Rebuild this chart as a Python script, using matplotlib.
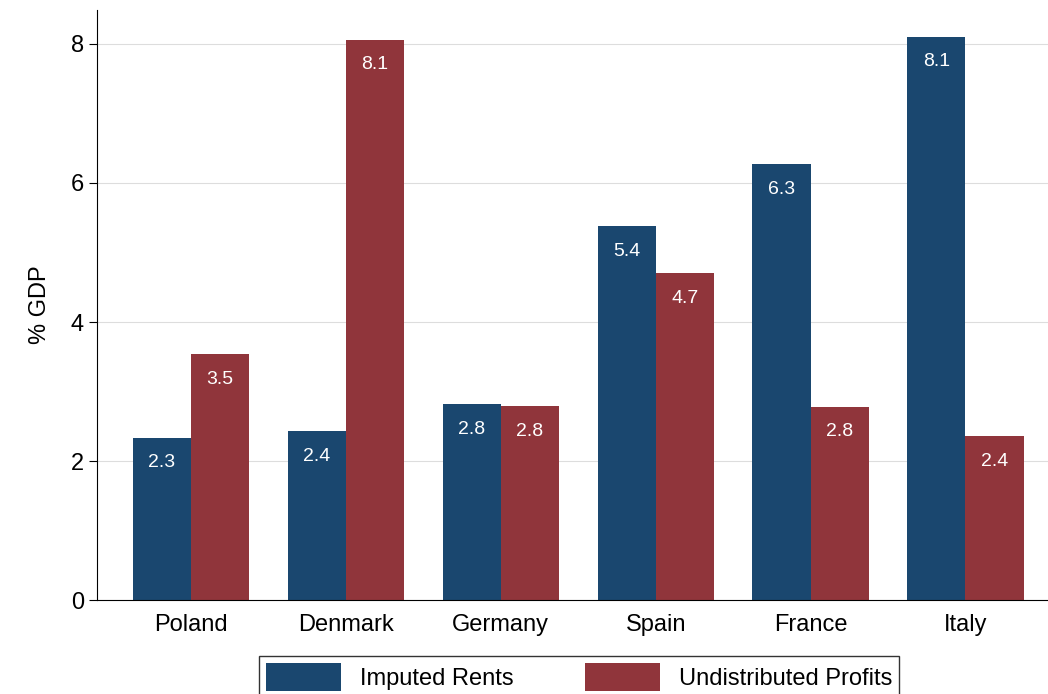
import matplotlib.pyplot as plt
import numpy as np

countries = ['Poland', 'Denmark', 'Germany', 'Spain', 'France', 'Italy']
imputed_rents = [2.34, 2.43, 2.82, 5.38, 6.27, 8.10]
undistributed = [3.54, 8.06, 2.79, 4.70, 2.78, 2.36]

blue = '#1a476f'
red = '#90353b'

plt.rcParams['font.family'] = ['Liberation Sans', 'DejaVu Sans']

fig = plt.figure(figsize=(10.48, 6.94), dpi=100)
ax = fig.add_axes([0.0926, 0.135, 0.907, 0.851])

x = np.arange(len(countries))
w = 0.375
b1 = ax.bar(x - w / 2, imputed_rents, w, color=blue, label='Imputed Rents')
b2 = ax.bar(x + w / 2, undistributed, w, color=red, label='Undistributed Profits')

for bars, vals in ((b1, imputed_rents), (b2, undistributed)):
    for bar, v in zip(bars, vals):
        ax.text(bar.get_x() + bar.get_width() / 2, v - 0.36, f'{v:.1f}',
                ha='center', va='center', color='white', fontsize=14)

ax.set_xlim(-0.606, 5.53)
ax.set_ylim(0, 8.49)
ax.set_yticks([0, 2, 4, 6, 8])
ax.set_xticks(x)
ax.set_xticklabels(countries)
ax.tick_params(axis='both', labelsize=17)
ax.tick_params(axis='y', length=6)
ax.tick_params(axis='x', length=0, pad=10)
ax.set_ylabel('% GDP', fontsize=17, labelpad=14)
ax.grid(axis='y', color='#dddddd', linewidth=0.8)
ax.set_axisbelow(True)
for s in ('top', 'right'):
    ax.spines[s].set_visible(False)

leg = ax.legend(loc='upper center', bbox_to_anchor=(0.507, -0.075), ncol=2,
                fontsize=17, frameon=True, fancybox=False, edgecolor='black',
                handlelength=3.2, handleheight=1.4, columnspacing=3.0,
                borderpad=0.3)
leg.get_frame().set_linewidth(1)

fig.savefig('out.png')
